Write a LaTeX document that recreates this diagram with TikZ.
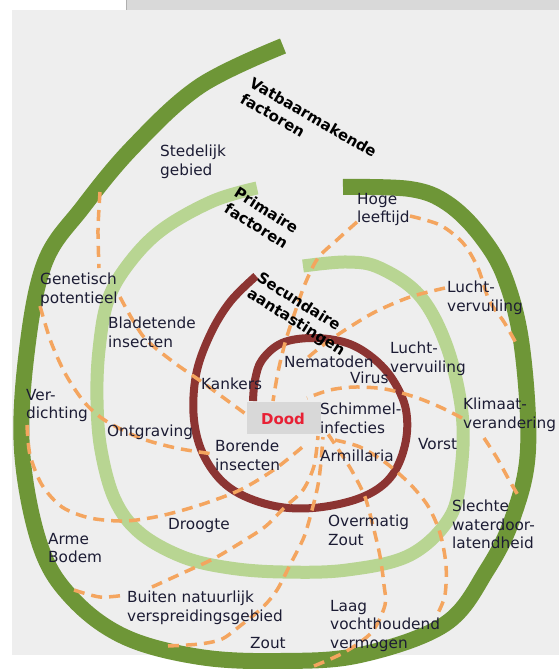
\documentclass[tikz,border=0pt]{standalone}
\usepackage{fontspec}
\setmainfont{DejaVu Sans}
\definecolor{panel}{RGB}{238,238,238}
\definecolor{topbar}{RGB}{217,217,217}
\definecolor{topedge}{RGB}{175,175,175}
\definecolor{outergreen}{RGB}{110,150,55}
\definecolor{lightgreen}{RGB}{184,213,146}
\definecolor{darkred}{RGB}{140,52,50}
\definecolor{dashorange}{RGB}{244,165,95}
\definecolor{txtcol}{RGB}{28,28,52}
\definecolor{doodred}{RGB}{232,32,52}
\definecolor{doodbox}{RGB}{216,216,216}
\newcommand\lblfont{\fontsize{15.3}{18.5}\selectfont}
\newcommand\ttlfont{\fontsize{15}{18.5}\selectfont\bfseries}
\begin{document}
\begin{tikzpicture}[x=1pt,y=-1pt,
  band/.style={line cap=butt,line join=round},
  dline/.style={draw=dashorange,line width=3.5pt,dash pattern=on 11pt off 7pt,line cap=butt},
  lbl/.style={font=\lblfont,text=txtcol,align=left,anchor=north west,inner sep=0pt},
  ttl/.style={font=\ttlfont,text=black,align=left,anchor=north west,inner sep=0pt}]
\useasboundingbox (0,0) rectangle (559,669);
% background
\fill[white] (0,0) rectangle (559,669);
\fill[topbar] (126,0) rectangle (559,10);
\draw[topedge,line width=0.8pt] (126,0) -- (126,10);
\fill[panel] (12,10) rectangle (559,655);
% spirals
\draw[band,draw=outergreen,line width=16pt] plot[smooth,tension=0.6] coordinates {
 (283,46) (200,86) (133,147) (83,207) (45,262) (27,350) (22,450) (40,545) (72,598)
 (125,637) (200,657) (280,661) (360,655) (445,624) (487,570) (513,517) (528,450)
 (522,347) (505,278) (480,235) (447,203) (410,189) (343,187)};
\draw[band,draw=lightgreen,line width=13pt] plot[smooth,tension=0.6] coordinates {
 (257,188) (213,201) (163,229) (130,262) (108,300) (99,350) (97,400) (101,450)
 (115,500) (140,533) (183,557) (230,568) (283,572) (347,570) (410,555) (450,517)
 (461,470) (462,413) (447,347) (420,296) (380,268) (347,262) (303,266)};
\draw[band,draw=darkred,line width=8pt] plot[smooth,tension=0.6] coordinates {
 (256,276) (230,302) (210,335) (196,375) (194,420) (205,458) (230,488) (270,505)
 (313,508) (360,498) (390,478) (405,445) (406,410) (393,380) (373,358) (347,343)
 (313,338) (282,343) (262,360) (255,380) (253,401)};
% dashed connector end points
\coordinate (s1) at (100,192); \coordinate (e1) at (99,268);
\coordinate (s2) at (120,297); \coordinate (e2) at (247,415);
\coordinate (s3) at (40,306); \coordinate (e3) at (213,454);
\coordinate (s4) at (27,425); \coordinate (e4) at (306,444);
\coordinate (s5) at (74,590); \coordinate (e5) at (126,595);
\coordinate (s6) at (152,587); \coordinate (e6) at (318,436);
\coordinate (s7) at (168,646); \coordinate (e7) at (323,437);
\coordinate (s8) at (314,666); \coordinate (e8) at (328,434);
\coordinate (s9) at (335,440); \coordinate (e9) at (438,613);
\coordinate (s10) at (357,222); \coordinate (e10) at (273,401);
\coordinate (s11) at (410,216); \coordinate (e11) at (516,343);
\coordinate (s12) at (445,288); \coordinate (e12) at (305,360);
\coordinate (s13) at (462,418); \coordinate (e13) at (307,398);
\coordinate (s14) at (484,438); \coordinate (e14) at (519,497);
% dashed connectors
\draw[dline] plot[smooth] coordinates {(s1) (98,230) (e1)};
\draw[dline] plot[smooth] coordinates {(s2) (143,336) (172,361) (202,382) (228,401) (e2)};
\draw[dline] plot[smooth] coordinates {(s3) (51,342) (66,375) (85,403) (106,421) (140,438) (176,448) (e3)};
\draw[dline] plot[smooth] coordinates {(s4) (30,455) (42,485) (62,507) (90,518) (125,521) (160,516) (200,505) (240,490) (275,469) (e4)};
\draw[dline] plot[smooth] coordinates {(s5) (100,597) (e5)};
\draw[dline] plot[smooth] coordinates {(s6) (185,572) (215,558) (245,540) (266,526) (285,507) (303,490) (314,466) (e6)};
\draw[dline] plot[smooth] coordinates {(s7) (200,644) (222,639) (240,626) (262,608) (277,590) (291,563) (304,537) (312,510) (318,485) (321,462) (e7)};
\draw[dline] plot[smooth] coordinates {(s8) (345,652) (372,632) (385,605) (384,585) (380,556) (373,526) (365,497) (352,471) (340,452) (e8)};
\draw[dline] plot[smooth] coordinates {(s9) (360,447) (386,463) (410,484) (428,506) (440,533) (446,565) (445,595) (e9)};
\draw[dline] plot[smooth] coordinates {(s10) (338,239) (318,258) (305,284) (294,315) (285,343) (278,372) (e10)};
\draw[dline] plot[smooth] coordinates {(s11) (440,225) (463,243) (478,268) (489,300) (504,322) (e11)};
\draw[dline] plot[smooth] coordinates {(s12) (410,297) (375,312) (345,330) (322,346) (e12)};
\draw[dline] plot[smooth] coordinates {(s13) (440,407) (415,397) (385,389) (355,387) (330,390) (e13)};
\draw[dline] plot[smooth] coordinates {(s14) (497,458) (508,478) (e14)};
% Dood
\node[fill=doodbox,minimum width=74pt,minimum height=32pt,inner sep=0pt] (doodbg) at (283.5,418) {};
\node[font=\ttlfont,text=doodred,inner sep=0pt] (dood) at (283,419) {Dood};
% titles
\node[ttl,rotate=-30] (vatb) at (254,76) {Vatbaarmakende\\factoren};
\node[ttl,rotate=-32] (prim) at (239,186) {Primaire\\factoren};
\node[ttl,rotate=-32] (secu) at (262,271) {Secundaire\\aantastingen};
% labels
\node[lbl] (sted) at (160,145) {Stedelijk\\gebied};
\node[lbl] (hoge) at (357,193) {Hoge\\leeftijd};
\node[lbl] (gene) at (40,273) {Genetisch\\potentieel};
\node[lbl] (blad) at (108,317) {Bladetende\\insecten};
\node[lbl] (lucht1) at (447,281) {Lucht-\\vervuiling};
\node[lbl] (lucht2) at (390,342) {Lucht-\\vervuiling};
\node[lbl] (nema) at (284,356) {Nematoden};
\node[lbl] (viru) at (350,372) {Virus};
\node[lbl] (kank) at (201,378) {Kankers};
\node[lbl] (verd) at (26,389) {Ver-\\dichting};
\node[lbl] (ontg) at (107,425) {Ontgraving};
\node[lbl] (bore) at (215,440) {Borende\\insecten};
\node[lbl] (schi) at (320,403) {Schimmel-\\infecties};
\node[lbl] (armi) at (320,450) {Armillaria};
\node[lbl] (klim) at (463,398) {Klimaat-\\verandering};
\node[lbl] (vors) at (418,438) {Vorst};
\node[lbl] (droo) at (168,518) {Droogte};
\node[lbl] (arme) at (48,533) {Arme\\Bodem};
\node[lbl] (over) at (328,515) {Overmatig\\Zout};
\node[lbl] (slec) at (452,500) {Slechte\\waterdoor-\\latendheid};
\node[lbl] (buit) at (127,591) {Buiten natuurlijk\\verspreidingsgebied};
\node[lbl] (zout) at (250,637) {Zout};
\node[lbl] (laag) at (330,600) {Laag\\vochthoudend\\vermogen};
\end{tikzpicture}
\end{document}
